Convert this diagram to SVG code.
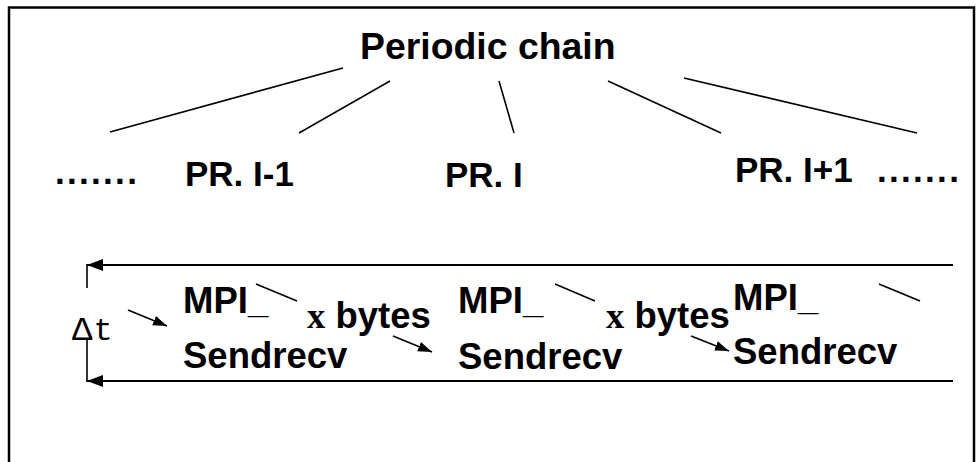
<svg xmlns="http://www.w3.org/2000/svg" width="980" height="462" viewBox="0 0 980 462">
  <defs>
    <marker id="head" markerUnits="userSpaceOnUse" markerWidth="16" markerHeight="12" refX="14" refY="5" orient="auto">
      <path d="M0,0 L14,5 L0,10 z" fill="#000"/>
    </marker>
    <marker id="head-lg" markerUnits="userSpaceOnUse" markerWidth="18" markerHeight="14" refX="16" refY="6" orient="auto">
      <path d="M0,0 L16,6 L0,12 z" fill="#000"/>
    </marker>
    <style>
      .lbl { font-family: "Liberation Sans", Arial, sans-serif; font-weight: bold; fill: #000; }
      .big { font-size: 35px; }
      .mid { font-size: 36.5px; }
      .serif { font-family: "Liberation Serif", "Times New Roman", serif; font-weight: bold; }
      .mono { font-family: "Liberation Mono", "Courier New", monospace; fill: #000; }
      .ln { stroke: #000; stroke-width: 1.6; fill: none; }
      .arr { stroke: #000; stroke-width: 1.6; fill: none; marker-end: url(#head); }
      .frame { stroke: #000; stroke-width: 1.8; fill: none; marker-end: url(#head-lg); }
    </style>
  </defs>

  <rect x="0" y="0" width="980" height="462" fill="#fff"/>
  <!-- outer frame, open past the bottom edge -->
  <rect x="9" y="7.5" width="965" height="520" fill="none" stroke="#000" stroke-width="2.5"/>

  <g id="title">
    <text class="lbl" x="360" y="59" font-size="37.4">Periodic chain</text>
  </g>

  <g id="dots-left">
    <text class="lbl big" x="55" y="184" letter-spacing="2.3">.......</text>
  </g>
  <g id="pr-i-minus-1">
    <text class="lbl big" x="185" y="186">PR. I-1</text>
  </g>
  <g id="pr-i">
    <text class="lbl big" x="445" y="187">PR. I</text>
  </g>
  <g id="pr-i-plus-1">
    <text class="lbl big" x="735" y="182" font-size="35.6">PR. I+1</text>
  </g>
  <g id="dots-right">
    <text class="lbl big" x="877" y="182" letter-spacing="2.3">.......</text>
  </g>

  <g id="delta-t">
    <text class="mono" x="72" y="340"><tspan font-size="34">Δ</tspan><tspan font-size="32" dx="1">t</tspan></text>
  </g>

  <g id="sendrecv-1">
    <text class="lbl mid" x="183" y="313">MPI_</text>
    <text class="lbl mid" x="183" y="368">Sendrecv</text>
  </g>
  <g id="bytes-1">
    <text class="lbl mid" x="307" y="328"><tspan class="serif">x</tspan> bytes</text>
  </g>
  <g id="sendrecv-2">
    <text class="lbl mid" x="458" y="313">MPI_</text>
    <text class="lbl mid" x="458" y="369">Sendrecv</text>
  </g>
  <g id="bytes-2">
    <text class="lbl mid" x="606" y="328"><tspan class="serif">x</tspan> bytes</text>
  </g>
  <g id="sendrecv-3">
    <text class="lbl mid" x="733" y="310">MPI_</text>
    <text class="lbl mid" x="733" y="364">Sendrecv</text>
  </g>

  <g id="connectors">
    <!-- fan from the chain title down to the processes -->
    <line class="ln" x1="110" y1="132" x2="343" y2="68"/>
    <line class="ln" x1="299" y1="133" x2="390" y2="81"/>
    <line class="ln" x1="499" y1="81" x2="514" y2="133"/>
    <line class="ln" x1="608" y1="81" x2="721" y2="133"/>
    <line class="ln" x1="684" y1="78" x2="917" y2="133"/>

    <!-- time frame: top and bottom arrows with the interval marker -->
    <line class="frame" x1="953" y1="265" x2="87" y2="265"/>
    <line class="ln" x1="87" y1="264" x2="87" y2="288"/>
    <line class="frame" x1="953" y1="381" x2="87" y2="381"/>
    <line class="ln" x1="87" y1="382" x2="87" y2="340"/>

    <!-- message flow between neighbours -->
    <line class="arr" x1="128" y1="310" x2="167" y2="326"/>
    <line class="ln" x1="256" y1="284" x2="297" y2="301"/>
    <line class="arr" x1="393" y1="336" x2="432" y2="352"/>
    <line class="ln" x1="555" y1="284" x2="595" y2="301"/>
    <line class="arr" x1="691" y1="336" x2="729" y2="351"/>
    <line class="ln" x1="879" y1="284" x2="920" y2="301"/>
  </g>
</svg>
